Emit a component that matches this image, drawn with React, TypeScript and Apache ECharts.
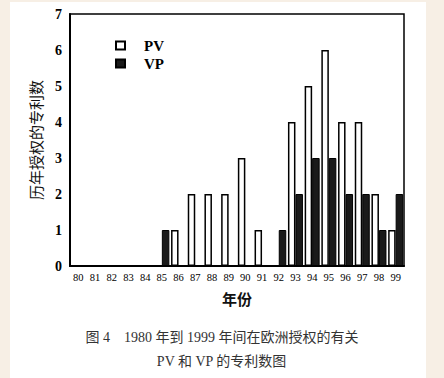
import React, { useEffect, useRef } from "react";
import * as echarts from "echarts";

const years = ["80", "81", "82", "83", "84", "85", "86", "87", "88", "89", "90", "91", "92", "93", "94", "95", "96", "97", "98", "99"];
const pvValues = [0, 0, 0, 0, 0, 0, 1, 2, 2, 2, 3, 1, 0, 4, 5, 6, 4, 4, 2, 1];
const vpValues = [0, 0, 0, 0, 0, 1, 0, 0, 0, 0, 0, 0, 1, 2, 3, 3, 2, 2, 1, 2];
const yTicks = [0, 1, 2, 3, 4, 5, 6, 7];
const captionLine1 = "图 4    1980 年到 1999 年间在欧洲授权的有关";
const captionLine2 = "PV 和 VP 的专利数图";

const SERIF = "'Liberation Serif', 'DejaVu Serif', 'Noto Sans CJK SC', serif";
const CJK = "'Noto Sans CJK SC', sans-serif";

export default function App() {
  const ref = useRef<HTMLDivElement>(null);
  useEffect(() => {
    if (!ref.current) return;
    const chart = echarts.init(ref.current, undefined, { renderer: "svg" });
    chart.setOption({
      animation: false,
      backgroundColor: "#f7efe5",
      graphic: [
        { type: "rect", z: -10, shape: { x: 10, y: 2, width: 416, height: 380 }, style: { fill: "#ffffff" } },
        { type: "text", left: "center", top: 330, style: { text: captionLine1, font: `14px ${SERIF}`, fill: "#333" } },
        { type: "text", left: "center", top: 354, style: { text: captionLine2, font: `14px ${SERIF}`, fill: "#333" } },
      ],
      grid: { left: 70, top: 14, width: 334, height: 252, show: true, borderColor: "#000", borderWidth: 1.5, backgroundColor: "transparent" },
      legend: {
        orient: "vertical",
        left: 110,
        top: 33,
        itemWidth: 9,
        itemHeight: 8,
        itemGap: 3,
        icon: "rect",
        data: ["PV", "VP"],
        textStyle: { fontFamily: SERIF, fontSize: 15, fontWeight: "bold", color: "#000", padding: [0, 0, 0, 14] },
      },
      xAxis: {
        type: "category",
        data: years,
        name: "年份",
        nameLocation: "middle",
        nameGap: 25,
        nameTextStyle: { fontFamily: CJK, fontSize: 15, fontWeight: "bold", color: "#111" },
        axisLine: { lineStyle: { color: "#000", width: 2 } },
        axisTick: { inside: true, alignWithLabel: true, length: 4, lineStyle: { color: "#000", width: 1.5 } },
        axisLabel: { fontFamily: SERIF, fontSize: 10.5, color: "#000", margin: 6 },
      },
      yAxis: {
        type: "value",
        min: 0,
        max: 7,
        interval: 1,
        name: "历年授权的专利数",
        nameLocation: "middle",
        nameGap: 27,
        nameTextStyle: { fontFamily: CJK, fontSize: 15, color: "#111" },
        axisLine: { show: true, lineStyle: { color: "#000", width: 2 } },
        axisTick: { show: false },
        splitLine: { show: false },
        axisLabel: {
          fontFamily: SERIF,
          fontSize: 14,
          fontWeight: "bold",
          color: "#000",
          margin: 8,
          formatter: (v: number) => (yTicks.includes(v) ? String(v) : ""),
        },
      },
      series: [
        {
          name: "PV",
          type: "bar",
          data: pvValues,
          barWidth: 7.5,
          barGap: "0%",
          itemStyle: { color: "#ffffff", borderColor: "#000", borderWidth: 1.5 },
        },
        {
          name: "VP",
          type: "bar",
          data: vpValues,
          barWidth: 7.5,
          itemStyle: { color: "#1a1a1a", borderColor: "#000", borderWidth: 1 },
        },
      ],
    });
    return () => chart.dispose();
  }, []);
  return <div ref={ref} style={{ position: "absolute", left: 0, top: 0, width: 444, height: 378 }} />;
}
